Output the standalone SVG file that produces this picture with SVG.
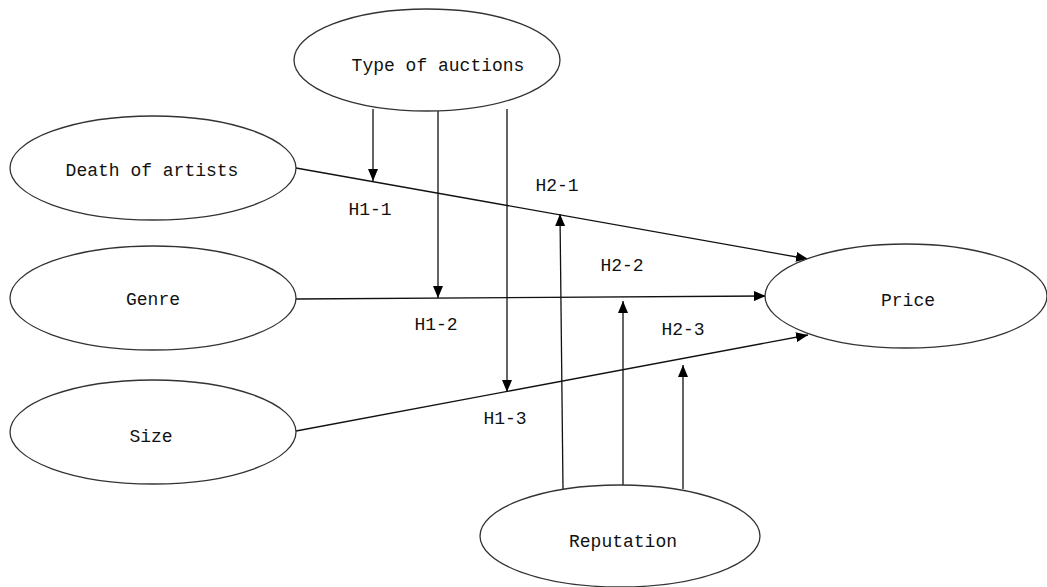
<svg xmlns="http://www.w3.org/2000/svg" width="1047" height="587" viewBox="0 0 1047 587">
<style>
.node ellipse{fill:#fff;stroke:#333;stroke-width:1.3}
text{font-family:"Liberation Mono","DejaVu Sans Mono",monospace;font-size:18px;fill:#111;text-anchor:middle}
.conn line{stroke:#111;stroke-width:1.3;fill:none}
</style>
<defs>
<marker id="ah" markerUnits="userSpaceOnUse" markerWidth="12" markerHeight="10" viewBox="0 0 12 10" refX="12" refY="5" orient="auto">
<path d="M0,0 L12,5 L0,10 Z" fill="#000"/>
</marker>
</defs>
<rect width="1047" height="587" fill="#fff"/>
<g id="connectors" class="conn">
<line x1="296" y1="168" x2="808" y2="259" marker-end="url(#ah)"/>
<line x1="296" y1="299" x2="766" y2="296" marker-end="url(#ah)"/>
<line x1="296" y1="431" x2="808" y2="335" marker-end="url(#ah)"/>
<line x1="373" y1="109" x2="373" y2="181" marker-end="url(#ah)"/>
<line x1="438" y1="111" x2="438" y2="298" marker-end="url(#ah)"/>
<line x1="507" y1="109" x2="507" y2="392" marker-end="url(#ah)"/>
<line x1="563" y1="489" x2="560" y2="214" marker-end="url(#ah)"/>
<line x1="623" y1="485" x2="623" y2="301" marker-end="url(#ah)"/>
<line x1="683" y1="489" x2="683" y2="365" marker-end="url(#ah)"/>
<text x="370" y="215">H1-1</text>
<text x="557" y="191">H2-1</text>
<text x="622" y="271">H2-2</text>
<text x="436" y="330">H1-2</text>
<text x="683" y="335">H2-3</text>
<text x="505" y="424">H1-3</text>
</g>
<g id="type-of-auctions" class="node">
<ellipse cx="427" cy="60" rx="133" ry="51"/>
<text x="438" y="71">Type of auctions</text>
</g>
<g id="death-of-artists" class="node">
<ellipse cx="153" cy="168" rx="143" ry="52"/>
<text x="152" y="176">Death of artists</text>
</g>
<g id="genre" class="node">
<ellipse cx="153" cy="298" rx="143" ry="52"/>
<text x="153" y="305">Genre</text>
</g>
<g id="size" class="node">
<ellipse cx="153" cy="432" rx="143" ry="52"/>
<text x="151" y="442">Size</text>
</g>
<g id="price" class="node">
<ellipse cx="906" cy="296" rx="141" ry="52"/>
<text x="908" y="306">Price</text>
</g>
<g id="reputation" class="node">
<ellipse cx="620" cy="536" rx="140" ry="51"/>
<text x="623" y="547">Reputation</text>
</g>
</svg>
